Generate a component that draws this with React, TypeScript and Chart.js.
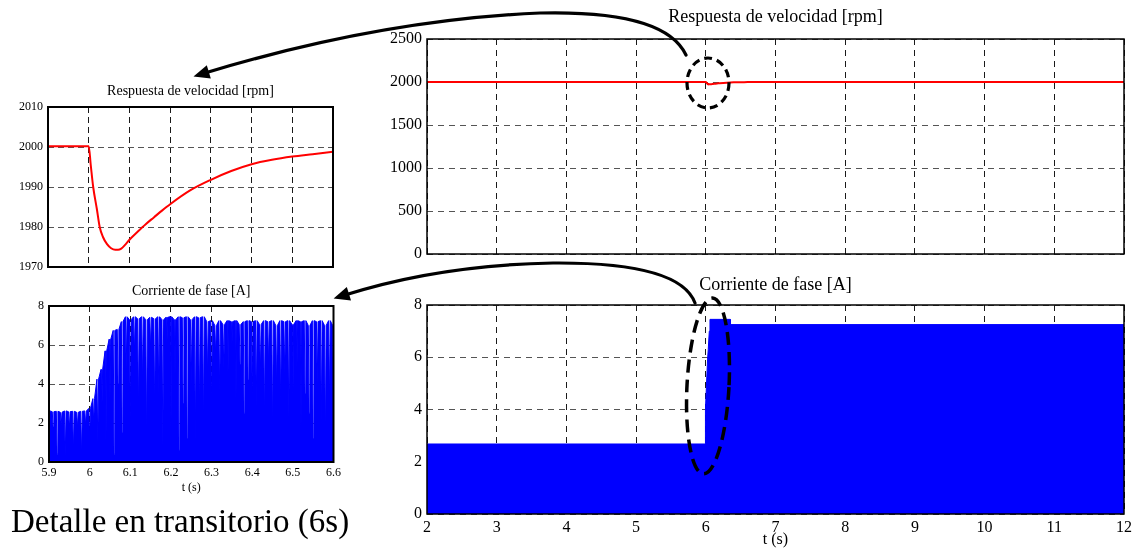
import React, { useEffect, useRef } from 'react';
import { Chart, registerables } from 'chart.js';

Chart.register(...registerables);

// ---------- tick labels ----------
const overviewTicksX = [2, 3, 4, 5, 6, 7, 8, 9, 10, 11, 12];
const speedTicksY = [0, 500, 1000, 1500, 2000, 2500];
const currentTicksY = [0, 2, 4, 6, 8];
const zoomTicksX = [5.9, 6.0, 6.1, 6.2, 6.3, 6.4, 6.5, 6.6];
const zoomSpeedTicksY = [1970, 1980, 1990, 2000, 2010];

// ---------- speed response (detail 5.9 - 6.6 s) ----------
const zoomSpeedTime = [5.9, 6.0, 6.005, 6.011, 6.02, 6.027, 6.035, 6.045, 6.055, 6.065, 6.072, 6.08, 6.09, 6.1, 6.12, 6.14, 6.16, 6.18, 6.2, 6.25, 6.3, 6.35, 6.4, 6.45, 6.5, 6.55, 6.6];
const zoomSpeedRpm = [2000.2, 2000.2, 1995.5, 1990, 1984.5, 1980, 1977.5, 1975.7, 1974.7, 1974.3, 1974.3, 1974.6, 1975.6, 1976.8, 1978.8, 1980.7, 1982.4, 1984.1, 1985.7, 1989.2, 1991.8, 1994, 1995.7, 1996.8, 1997.6, 1998.2, 1998.8];

// ---------- speed response (overview 2 - 12 s), ends outside the detail ----------
const overviewSpeedTime = [2, 12];
const overviewSpeedRpm = [2000.2, 2000];

// ---------- phase current envelope (overview 2 - 12 s) ----------
const overviewCurrentTime = [2, 5.993, 5.995, 6.025, 6.035, 6.05, 6.06, 6.35, 6.352, 12];
const overviewCurrentEnvelope = [2.68, 2.68, 4.0, 5.9, 6.3, 7.0, 7.45, 7.45, 7.25, 7.25];

// ---------- phase current detail: one peak and one dip per cycle ----------
const zoomCycleStart = 5.9;
const zoomCyclePeriod = 0.01;
const zoomCurrentPeaks = [
  2.62, 2.58, 2.6, 2.55, 2.62, 2.58, 2.6, 2.55, 2.6, 2.62,
  2.75, 3.25, 4.25, 4.75, 5.7, 6.3, 6.75, 6.8, 7.2, 7.45,
  7.3, 7.45, 7.35, 7.45, 7.3, 7.42, 7.35, 7.45, 7.3, 7.42,
  7.45, 7.3, 7.45, 7.4, 7.45, 7.3, 7.45, 7.4, 7.45, 7.2,
  7.25, 7.0, 7.25, 7.05, 7.25, 7.2, 7.25, 7.05, 7.2, 7.25,
  7.2, 7.25, 7.05, 7.25, 7.2, 7.25, 7.0, 7.25, 7.2, 7.25,
  7.05, 7.25, 7.2, 7.25, 7.0, 7.25, 7.2, 7.25, 7.0, 7.25, 7.0,
];
const zoomCurrentDips = [
  0.3, 1.8, 0.4, 1.9, 0.3, 1.7, 0.5, 1.8, 0.3, 1.9,
  1.2, 2.0, 1.0, 2.6, 0.8, 3.2, 0.4, 4.0, 1.5, 4.8,
  2.0, 5.5, 2.5, 4.0, 1.0, 5.8, 2.5, 3.5, 0.8, 6.0,
  1.5, 4.5, 0.6, 3.0, 1.2, 4.0, 0.9, 2.5, 1.8, 4.5,
  2.8, 5.5, 3.5, 4.8, 4.0, 6.0, 3.2, 5.0, 2.5, 4.2,
  3.5, 2.8, 4.5, 2.0, 5.0, 1.5, 3.8, 2.8, 4.5, 2.2,
  3.0, 4.8, 1.8, 3.5, 2.5, 1.2, 4.0, 2.0, 0.8, 3.0, 2.5,
];

// ---------- derived point lists ----------
const zoomSpeedPoints = zoomSpeedTime.map((t, i) => ({ x: t, y: zoomSpeedRpm[i] }));
const overviewSpeedPoints = [
  { x: overviewSpeedTime[0], y: overviewSpeedRpm[0] },
  ...zoomSpeedPoints,
  { x: overviewSpeedTime[1], y: overviewSpeedRpm[1] },
];
const overviewCurrentPoints = overviewCurrentTime.map((t, i) => ({ x: t, y: overviewCurrentEnvelope[i] }));
const zoomCurrentPoints: { x: number; y: number }[] = [];
zoomCurrentPeaks.forEach((peak, i) => {
  const t = zoomCycleStart + i * zoomCyclePeriod;
  zoomCurrentPoints.push({ x: t - 0.2 * zoomCyclePeriod, y: peak });
  zoomCurrentPoints.push({ x: t, y: zoomCurrentDips[i] });
  zoomCurrentPoints.push({ x: t + 0.2 * zoomCyclePeriod, y: peak });
});

const FONT = "'Liberation Serif', 'Times New Roman', serif";

const framePlugin = {
  id: 'frame',
  afterDatasetsDraw(chart: any, _args: any, opts: any) {
    const { ctx, chartArea } = chart;
    const { left, top, right, bottom } = chartArea;
    ctx.save();
    ctx.strokeStyle = '#000';
    ctx.lineWidth = opts.width || 1.5;
    ctx.strokeRect(left, top, right - left, bottom - top);
    ctx.restore();
  },
};

type Geom = { cl: number; ct: number; cw: number; ch: number; L: number; T: number; R: number; B: number };

const fmt = (v: number) => String(Math.round(v * 10) / 10);

function buildConfig(
  g: Geom,
  o: {
    datasets: any[];
    xTicks: number[];
    yTicks: number[];
    title: string;
    titleSize: number;
    titlePadTop: number;
    tickSize: number;
    showX: boolean;
    xLabelPad: number;
    xTitle?: string;
    xTitlePadBottom?: number;
    frame: number;
    dash: number[];
  }
): any {
  const xMin = o.xTicks[0];
  const xMax = o.xTicks[o.xTicks.length - 1];
  const yMin = o.yTicks[0];
  const yMax = o.yTicks[o.yTicks.length - 1];
  return {
    type: 'line',
    data: { datasets: o.datasets },
    plugins: [framePlugin],
    options: {
      animation: false,
      responsive: false,
      events: [],
      layout: { padding: { left: 0, top: 0, right: g.cl + g.cw - g.R, bottom: 0 } },
      plugins: {
        legend: { display: false },
        tooltip: { enabled: false },
        title: { display: false },
        frame: { width: o.frame },
      },
      scales: {
        x: {
          type: 'linear',
          position: 'bottom',
          min: xMin,
          max: xMax,
          afterBuildTicks: (s: any) => {
            s.ticks = o.xTicks.map((v) => ({ value: v }));
          },
          afterFit: (s: any) => {
            s.height = g.ct + g.ch - g.B;
          },
          ticks: {
            display: o.showX,
            padding: o.xLabelPad,
            autoSkip: false,
            maxRotation: 0,
            color: '#000',
            font: { family: FONT, size: o.tickSize },
            callback: (v: number) => fmt(v),
          },
          grid: { display: true, drawTicks: false, color: '#1a1a1a', lineWidth: 1 },
          border: { display: false, dash: o.dash },
          title: {
            display: !!o.xTitle,
            text: o.xTitle || '',
            color: '#000',
            font: { family: FONT, size: o.tickSize, lineHeight: 1 },
            padding: { top: 0, bottom: o.xTitlePadBottom || 0 },
          },
        },
        y: {
          type: 'linear',
          position: 'left',
          min: yMin,
          max: yMax,
          afterBuildTicks: (s: any) => {
            s.ticks = o.yTicks.map((v) => ({ value: v }));
          },
          afterFit: (s: any) => {
            s.width = g.L - g.cl;
          },
          ticks: {
            padding: 5,
            color: '#000',
            font: { family: FONT, size: o.tickSize },
            callback: (v: number) => fmt(v),
          },
          grid: { display: true, drawTicks: false, color: '#555', lineWidth: 1 },
          border: { display: false, dash: o.dash },
        },
        xt: {
          type: 'linear',
          position: 'top',
          min: 0,
          max: 1,
          ticks: { display: false },
          grid: { display: false, drawTicks: false },
          border: { display: false },
          afterFit: (s: any) => {
            s.height = g.T - g.ct;
          },
          title: {
            display: true,
            text: o.title,
            color: '#000',
            font: { family: FONT, size: o.titleSize, lineHeight: 1 },
            padding: { top: o.titlePadTop, bottom: 0 },
          },
        },
      },
    },
  };
}

const gA: Geom = { cl: 367, ct: 0, cw: 770, ch: 276, L: 427, T: 39, R: 1124, B: 254 };
const gB: Geom = { cl: 367, ct: 270, cw: 770, ch: 282, L: 427, T: 305, R: 1124, B: 514 };
const gC: Geom = { cl: 0, ct: 75, cw: 340, ch: 210, L: 48, T: 107, R: 333, B: 267 };
const gD: Geom = { cl: 0, ct: 276, cw: 345, ch: 221, L: 49, T: 306, R: 335, B: 462 };

const red = (data: any[], w: number, smooth: boolean) => ({
  data,
  borderColor: '#ff0000',
  borderWidth: w,
  pointRadius: 0,
  fill: false,
  ...(smooth ? { cubicInterpolationMode: 'monotone' } : { tension: 0 }),
});
const blue = (data: any[]) => ({
  data,
  borderColor: '#0000ff',
  backgroundColor: '#0000ff',
  borderWidth: 1,
  pointRadius: 0,
  fill: 'origin',
  tension: 0,
});

function canvasStyle(g: Geom): React.CSSProperties {
  return { position: 'absolute', left: g.cl, top: g.ct, width: g.cw, height: g.ch, display: 'block' };
}

export default function App() {
  const refA = useRef<HTMLCanvasElement>(null);
  const refB = useRef<HTMLCanvasElement>(null);
  const refC = useRef<HTMLCanvasElement>(null);
  const refD = useRef<HTMLCanvasElement>(null);

  useEffect(() => {
    const charts: Chart[] = [];
    charts.push(
      new Chart(
        refA.current!,
        buildConfig(gA, {
          datasets: [red(overviewSpeedPoints, 2, false)],
          xTicks: overviewTicksX,
          yTicks: speedTicksY,
          title: 'Respuesta de velocidad [rpm]',
          titleSize: 18,
          titlePadTop: 8,
          tickSize: 16,
          showX: false,
          xLabelPad: 4,
          frame: 1.5,
          dash: [6, 5],
        })
      )
    );
    charts.push(
      new Chart(
        refB.current!,
        buildConfig(gB, {
          datasets: [blue(overviewCurrentPoints)],
          xTicks: overviewTicksX,
          yTicks: currentTicksY,
          title: 'Corriente de fase [A]',
          titleSize: 18,
          titlePadTop: 6,
          tickSize: 16,
          showX: true,
          xLabelPad: 4,
          xTitle: 't (s)',
          xTitlePadBottom: 4,
          frame: 1.5,
          dash: [6, 5],
        })
      )
    );
    charts.push(
      new Chart(
        refC.current!,
        buildConfig(gC, {
          datasets: [red(zoomSpeedPoints, 2, true)],
          xTicks: zoomTicksX,
          yTicks: zoomSpeedTicksY,
          title: 'Respuesta de velocidad [rpm]',
          titleSize: 14,
          titlePadTop: 9,
          tickSize: 12,
          showX: false,
          xLabelPad: 4,
          frame: 2,
          dash: [6, 4],
        })
      )
    );
    charts.push(
      new Chart(
        refD.current!,
        buildConfig(gD, {
          datasets: [blue(zoomCurrentPoints)],
          xTicks: zoomTicksX,
          yTicks: currentTicksY,
          title: 'Corriente de fase [A]',
          titleSize: 14,
          titlePadTop: 8,
          tickSize: 12,
          showX: true,
          xLabelPad: 4,
          xTitle: 't (s)',
          xTitlePadBottom: 3,
          frame: 2,
          dash: [6, 4],
        })
      )
    );
    return () => charts.forEach((c) => c.destroy());
  }, []);

  return (
    <div style={{ position: 'absolute', left: 0, top: 0, width: 1137, height: 559, overflow: 'hidden', background: '#fff' }}>
      <canvas ref={refA} width={gA.cw} height={gA.ch} style={canvasStyle(gA)} />
      <canvas ref={refB} width={gB.cw} height={gB.ch} style={canvasStyle(gB)} />
      <canvas ref={refC} width={gC.cw} height={gC.ch} style={canvasStyle(gC)} />
      <canvas ref={refD} width={gD.cw} height={gD.ch} style={canvasStyle(gD)} />
      <div
        style={{
          position: 'absolute',
          left: 11,
          top: 505,
          fontFamily: FONT,
          fontSize: 33,
          lineHeight: 1,
          color: '#000',
          whiteSpace: 'nowrap',
        }}
      >
        Detalle en transitorio (6s)
      </div>
      <svg width={1137} height={559} style={{ position: 'absolute', left: 0, top: 0, pointerEvents: 'none' }}>
        <path d="M686,55 Q665,10 540,13 Q380,20 205,73" fill="none" stroke="#000" strokeWidth={3.2} strokeLinecap="round" />
        <polygon points="193.5,76.5 206.8,65.2 210.8,78.6" fill="#000" />
        <path d="M695,303 Q680,262 553,263 Q440,265 345,295" fill="none" stroke="#000" strokeWidth={3.2} strokeLinecap="round" />
        <polygon points="333.6,298.6 346.8,287.1 351,300.5" fill="#000" />
        <ellipse cx={708} cy={83} rx={21} ry={25} fill="none" stroke="#000" strokeWidth={3.2} strokeDasharray="8 5" />
        <ellipse cx={708} cy={386} rx={21} ry={88} fill="none" stroke="#000" strokeWidth={3.5} strokeDasharray="13 7" transform="rotate(3 708 386)" />
      </svg>
    </div>
  );
}
